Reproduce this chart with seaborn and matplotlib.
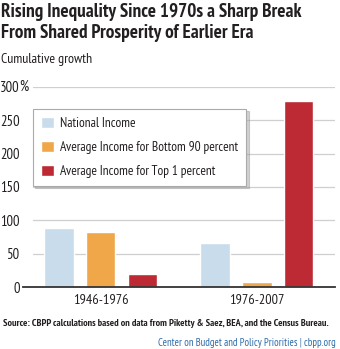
import matplotlib
matplotlib.use("Agg")
import matplotlib.pyplot as plt
import matplotlib.transforms as mtransforms
import seaborn as sns
import pandas as pd

periods = ["1946-1976", "1976-2007"]
series = ["National Income",
          "Average Income for Bottom 90 percent",
          "Average Income for Top 1 percent"]
national_income = [89, 66]
bottom_90 = [83, 8]
top_1 = [20, 278]
yticks = [0, 50, 100, 150, 200, 250, 300]
colors = ["#C8DCEC", "#F0A74A", "#BD2A33"]

rows = []
for name, vals in zip(series, [national_income, bottom_90, top_1]):
    for p, v in zip(periods, vals):
        rows.append({"period": p, "series": name, "growth": v})
df = pd.DataFrame(rows)

sns.set_theme(style="white")
plt.rcParams["font.family"] = ["PT Sans Narrow", "DejaVu Sans"]
ink = "#231F20"

fig = plt.figure(figsize=(3.4, 3.49), dpi=100)
ax = fig.add_axes([22.7 / 340, 1 - 287.3 / 349, 312.3 / 340, 200.6 / 349])

sns.barplot(data=df, x="period", y="growth", hue="series", order=periods,
            hue_order=series, palette=colors, width=0.805, gap=0.3,
            saturation=1, ax=ax, legend=True)

ax.set_xlim(-0.5, 1.5)
ax.set_ylim(0, 300)
ax.set_yticks(yticks)
ax.set_yticklabels([str(t) for t in yticks], fontsize=10.5, color=ink)
ax.tick_params(axis="y", length=0, pad=2.3)
ax.tick_params(axis="x", length=0, pad=5, labelsize=10.3, labelcolor=ink)
ax.set_xlabel("")
ax.set_ylabel("")
for t in yticks[1:]:
    ax.axhline(t, xmin=0.033, xmax=1, color="#CFCFCF", lw=0.9, zorder=0)
for s in ["top", "right", "left"]:
    ax.spines[s].set_visible(False)
ax.spines["bottom"].set_color("#333333")
ax.spines["bottom"].set_linewidth(1.3)

# percent sign trailing the top tick label
pct_tr = mtransforms.blended_transform_factory(fig.transFigure, ax.transData)
ax.text(19.6 / 340, 300, "%", transform=pct_tr, fontsize=10.5, color=ink,
        ha="left", va="center")

leg = ax.legend(loc="upper left", bbox_to_anchor=(33 / 340, 1 - 109 / 349),
                bbox_transform=fig.transFigure, frameon=True, fancybox=False,
                fontsize=9.6, handlelength=1.0, handleheight=0.9,
                handletextpad=0.45, labelspacing=0.8, borderpad=0.6,
                borderaxespad=0, title=None,
                shadow={"color": "#999999", "alpha": 0.45, "ox": 1.5, "oy": -1.5})
leg.get_frame().set_edgecolor("#AAAAAA")
leg.get_frame().set_linewidth(0.8)
for txt in leg.get_texts():
    txt.set_color(ink)

fig.text(1 / 340, 1 - 12 / 349, "Rising Inequality Since 1970s a Sharp Break",
         fontsize=13.8, fontweight="bold", color=ink, va="center", ha="left")
fig.text(1 / 340, 1 - 33 / 349, "From Shared Prosperity of Earlier Era",
         fontsize=13.8, fontweight="bold", color=ink, va="center", ha="left")
fig.text(1 / 340, 1 - 60 / 349, "Cumulative growth", fontsize=10,
         color=ink, va="center", ha="left")
fig.text(3 / 340, 1 - 323 / 349,
         "Source: CBPP calculations based on data from Piketty & Saez, BEA, and the Census Bureau.",
         fontsize=7.25, fontweight="bold", color=ink, va="center", ha="left")
fig.text(336 / 340, 1 - 343 / 349, "Center on Budget and Policy Priorities | cbpp.org",
         fontsize=7.7, color="#2D6BA8", va="center", ha="right")

fig.savefig("out.png", dpi=100)
